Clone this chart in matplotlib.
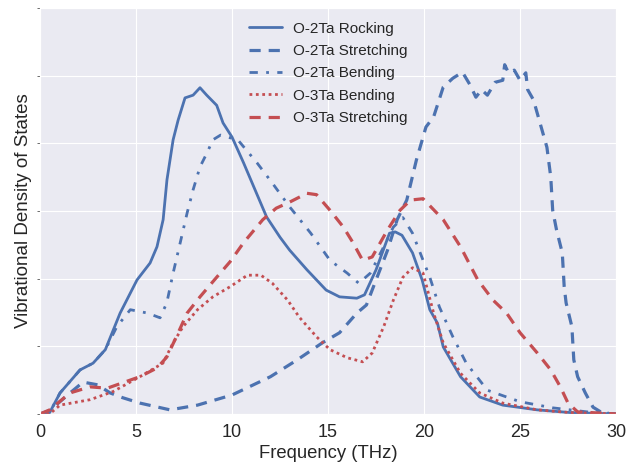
import numpy as np
import matplotlib
matplotlib.use("Agg")
import matplotlib.pyplot as plt
import seaborn as sns

# values (arbitrary units, 1 unit = 1 grid step)
rock_x = [0, 0.5, 1.04, 2.08, 2.76, 3.4, 4.17, 5.05, 5.73, 6.09, 6.41, 6.61, 6.93, 7.19, 7.55, 7.97, 8.33,
          8.68, 9.2, 9.53, 10.0, 10.6, 11.2, 11.8, 12.5, 13.0, 13.9, 14.9, 15.6, 16.5, 16.9, 17.5, 18.2,
          18.5, 18.85, 19.4, 19.9, 20.3, 20.7, 21.0, 21.9, 22.9, 24.1, 25.9, 27.6, 30]
rock_y = [0, 0.02, 0.31, 0.65, 0.75, 0.95, 1.49, 1.98, 2.23, 2.47, 2.87, 3.46, 4.05, 4.34, 4.67, 4.71, 4.82,
          4.71, 4.56, 4.30, 4.09, 3.71, 3.31, 2.91, 2.61, 2.42, 2.13, 1.83, 1.73, 1.71, 1.76, 2.13, 2.67,
          2.69, 2.64, 2.38, 1.98, 1.54, 1.34, 0.99, 0.55, 0.25, 0.13, 0.06, 0.02, 0]

str2_x = [0, 0.5, 1.56, 2.24, 3.0, 3.65, 4.3, 5.2, 6.77, 8.2, 10.0, 12.0, 13.4, 14.7, 15.6, 16.5, 17.0,
          17.5, 18.1, 18.6, 19.1, 19.6, 20.1, 20.5, 21.0, 21.5, 22.0, 22.4, 22.7, 23.0, 23.3, 23.7, 24.1,
          24.2, 24.4, 24.7, 25.0, 25.3, 25.4, 25.7, 26.0, 26.4, 26.6, 26.7, 26.9, 27.2, 27.3, 27.4, 27.7,
          27.8, 28.0, 28.4, 28.8, 29.2, 29.4, 29.6, 30]
str2_y = [0, 0.05, 0.31, 0.47, 0.43, 0.31, 0.24, 0.16, 0.06, 0.13, 0.28, 0.55, 0.80, 1.05, 1.20, 1.49, 1.61,
          1.98, 2.42, 2.87, 3.16, 3.75, 4.24, 4.39, 4.83, 4.96, 5.05, 4.86, 4.68, 4.79, 4.71, 4.90, 4.93,
          5.16, 5.04, 5.08, 4.93, 5.04, 4.79, 4.64, 4.34, 3.94, 3.50, 3.01, 2.72, 2.38, 1.88, 1.64, 1.29,
          0.80, 0.55, 0.31, 0.10, 0.03, 0.06, 0.0, 0]

bend2_x = [0, 0.5, 1.04, 2.08, 2.76, 3.4, 4.0, 4.7, 5.6, 6.25, 6.6, 6.93, 7.3, 7.66, 7.97, 8.33, 8.7, 9.0,
           9.4, 9.9, 10.3, 11.3, 12.1, 13.0, 14.1, 15.1, 16.0, 16.6, 17.2, 17.9, 18.4, 18.9, 19.4, 19.95,
           20.3, 20.8, 21.5, 22.2, 23.3, 25.0, 26.7, 28.5, 30]
bend2_y = [0, 0.02, 0.31, 0.65, 0.75, 0.95, 1.29, 1.54, 1.49, 1.42, 1.64, 2.08, 2.53, 2.97, 3.31, 3.65, 3.86, 4.05,
           4.12, 4.08, 4.05, 3.71, 3.41, 3.06, 2.67, 2.27, 2.08, 1.93, 2.08, 2.47, 2.76, 2.90, 2.67, 2.27,
           2.02, 1.58, 1.14, 0.75, 0.35, 0.18, 0.09, 0.03, 0]

bend3_x = [0, 0.5, 1.04, 2.6, 3.8, 5.2, 6.4, 6.93, 7.45, 8.2, 9.0, 9.9, 10.8, 11.5, 12.1, 12.9, 13.5, 14.4,
           15.1, 16.0, 16.8, 17.3, 17.9, 18.4, 18.9, 19.4, 19.95, 20.5, 21.0, 21.9, 22.9, 24.1, 25.9, 27.6, 30]
bend3_y = [0, 0.0, 0.13, 0.21, 0.33, 0.55, 0.75, 1.05, 1.29, 1.54, 1.73, 1.88, 2.05, 2.05, 1.93, 1.68, 1.43, 1.14,
           0.95, 0.83, 0.77, 0.90, 1.29, 1.68, 2.02, 2.16, 2.08, 1.49, 1.05, 0.60, 0.31, 0.16, 0.06, 0.02, 0]

str3_x = [0, 0.5, 1.56, 2.6, 3.5, 4.3, 5.2, 6.1, 6.6, 7.1, 7.66, 8.33, 9.2, 9.9, 10.6, 11.6, 12.3, 13.0,
          13.9, 14.4, 15.1, 15.8, 16.3, 16.8, 17.3, 18.1, 18.75, 19.3, 19.95, 21.0, 21.9, 22.8, 23.6, 24.3,
          25.0, 25.9, 26.6, 27.1, 27.5, 28.0, 30]
str3_y = [0, 0.06, 0.31, 0.40, 0.38, 0.46, 0.55, 0.68, 0.84, 1.14, 1.49, 1.73, 2.02, 2.25, 2.53, 2.87, 3.04, 3.13,
          3.26, 3.24, 3.01, 2.76, 2.53, 2.27, 2.32, 2.72, 3.01, 3.16, 3.18, 2.87, 2.47, 1.98, 1.68, 1.49,
          1.20, 0.90, 0.65, 0.40, 0.16, 0.03, 0]

sns.set_style("darkgrid")
plt.rcParams['font.family'] = ['Liberation Sans', 'DejaVu Sans']

blue = '#4C72B0'
red = '#C44E52'

fig = plt.figure(figsize=(6.36, 4.63), dpi=100)
ax = fig.add_axes([0.063, 0.106, 0.9056, 0.877])

ax.plot(rock_x, rock_y, color=blue, lw=2, linestyle='-', label='O-2Ta Rocking')
ax.plot(str2_x, str2_y, color=blue, lw=2.3, linestyle=(0, (3.5, 2.5)), label='O-2Ta Stretching')
ax.plot(bend2_x, bend2_y, color=blue, lw=2, linestyle=(0, (3, 3, 1, 3)), label='O-2Ta Bending')
ax.plot(bend3_x, bend3_y, color=red, lw=2, linestyle=(0, (1, 1.3)), label='O-3Ta Bending')
ax.plot(str3_x, str3_y, color=red, lw=2.3, linestyle=(0, (3.5, 2.5)), label='O-3Ta Stretching')

ax.set_xlim(0, 30)
ax.set_ylim(0, 6)
ax.set_xticks([0, 5, 10, 15, 20, 25, 30])
ax.set_yticks(np.arange(0, 7))
ax.set_yticklabels([])
ax.tick_params(axis='x', labelsize=13, length=0, pad=7)
ax.tick_params(axis='y', length=2, width=0.6, color='#555555', direction='out', left=True)
ax.set_xlabel('Frequency (THz)', fontsize=13.3, labelpad=3)
ax.set_ylabel('Vibrational Density of States', fontsize=13.5, labelpad=0)

ax.legend(loc='upper center', fontsize=11, frameon=False, handlelength=2.2,
          handletextpad=0.7, labelspacing=0.55, bbox_to_anchor=(0.5, 1.0))

fig.savefig('out.png', dpi=100)
